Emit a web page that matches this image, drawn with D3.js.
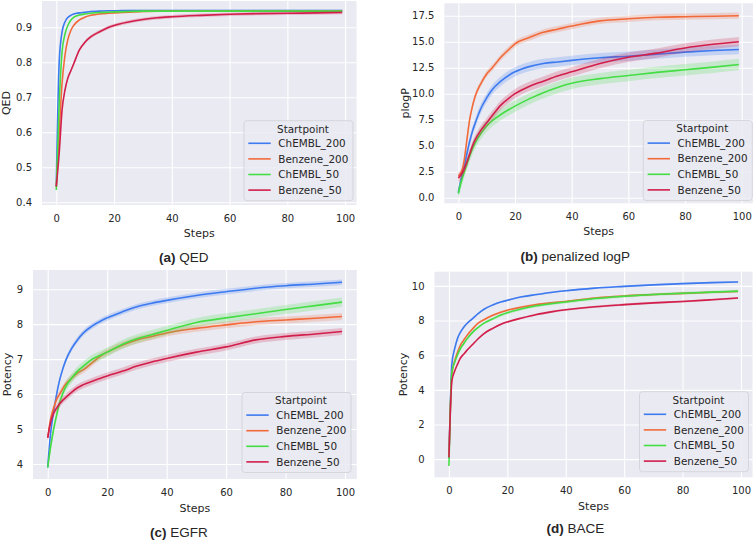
<!DOCTYPE html>
<html>
<head>
<meta charset="utf-8">
<script src="https://cdn.jsdelivr.net/npm/d3@7"></script>
<style>
  html, body { margin: 0; padding: 0; background: #fff; }
  svg { display: block; }
  text { font-family: "DejaVu Sans", sans-serif; fill: #262626; }
  .cap { font-family: "Liberation Sans", Arial, sans-serif; }
</style>
</head>
<body>
<svg id="chart" width="755" height="541"></svg>
<script>
// ---------- data ----------
const steps = [0, 1, 2, 3, 4, 5, 6, 8, 10, 12, 15, 18, 20, 25, 30, 35, 40, 50, 60, 70, 80, 90, 99];
const seriesNames = ["ChEMBL_200", "Benzene_200", "ChEMBL_50", "Benzene_50"];
const seriesColors = ["#3d7af0", "#f26a3a", "#44dd44", "#d21e4b"];

// (a) QED
const qedChembl200  = [0.445, 0.800, 0.887, 0.915, 0.928, 0.934, 0.938, 0.941, 0.943, 0.945, 0.946, 0.947, 0.947, 0.948, 0.948, 0.948, 0.948, 0.948, 0.948, 0.948, 0.948, 0.948, 0.948];
const qedBenzene200 = [0.445, 0.600, 0.740, 0.820, 0.865, 0.890, 0.905, 0.921, 0.929, 0.934, 0.938, 0.940, 0.941, 0.943, 0.945, 0.946, 0.946, 0.946, 0.946, 0.946, 0.946, 0.946, 0.946];
const qedChembl50   = [0.435, 0.680, 0.830, 0.880, 0.905, 0.920, 0.928, 0.935, 0.938, 0.940, 0.942, 0.943, 0.944, 0.945, 0.946, 0.946, 0.946, 0.946, 0.946, 0.946, 0.946, 0.946, 0.946];
const qedBenzene50  = [0.445, 0.540, 0.664, 0.720, 0.755, 0.775, 0.795, 0.835, 0.858, 0.873, 0.887, 0.899, 0.905, 0.915, 0.922, 0.927, 0.930, 0.934, 0.937, 0.939, 0.940, 0.941, 0.942];
const qedBand = [0.002, 0.002, 0.002, 0.005];
const qedTicks = [0.4, 0.5, 0.6, 0.7, 0.8, 0.9];

// (b) penalized logP
const plogpChembl200  = [0.5, 1.8, 2.9, 4.2, 5.4, 6.4, 7.2, 8.6, 9.6, 10.4, 11.2, 11.8, 12.1, 12.6, 12.9, 13.05, 13.2, 13.45, 13.6, 13.8, 14.0, 14.15, 14.25];
const plogpBenzene200 = [2.1, 2.4, 3.5, 5.5, 7.5, 8.8, 9.8, 11.0, 11.9, 12.5, 13.5, 14.3, 14.8, 15.4, 15.9, 16.2, 16.5, 17.0, 17.2, 17.35, 17.4, 17.45, 17.5];
const plogpChembl50   = [0.4, 1.5, 2.4, 3.2, 4.0, 4.7, 5.3, 6.2, 6.9, 7.4, 8.0, 8.5, 8.8, 9.5, 10.1, 10.6, 11.0, 11.45, 11.75, 12.05, 12.3, 12.55, 12.8];
const plogpBenzene50  = [1.9, 2.2, 2.7, 3.4, 4.2, 5.0, 5.6, 6.5, 7.2, 7.9, 8.9, 9.6, 10.0, 10.7, 11.2, 11.7, 12.1, 12.9, 13.5, 13.9, 14.4, 14.75, 15.0];
const plogpBand = [0.45, 0.3, 0.55, 0.45];
const plogpTicks = [0.0, 2.5, 5.0, 7.5, 10.0, 12.5, 15.0, 17.5];

// (c) EGFR
const egfrChembl200  = [3.9, 4.9, 5.5, 6.0, 6.4, 6.7, 6.95, 7.3, 7.55, 7.75, 7.95, 8.1, 8.18, 8.35, 8.5, 8.6, 8.68, 8.82, 8.93, 9.03, 9.1, 9.15, 9.2];
const egfrBenzene200 = [4.75, 5.3, 5.6, 5.85, 6.0, 6.15, 6.28, 6.45, 6.6, 6.7, 6.9, 7.1, 7.2, 7.4, 7.55, 7.65, 7.75, 7.88, 7.98, 8.07, 8.12, 8.17, 8.22];
const egfrChembl50   = [3.9, 4.5, 5.0, 5.4, 5.75, 6.0, 6.2, 6.45, 6.65, 6.8, 7.0, 7.12, 7.2, 7.42, 7.58, 7.7, 7.82, 8.05, 8.18, 8.3, 8.42, 8.53, 8.63];
const egfrBenzene50  = [4.75, 5.2, 5.45, 5.6, 5.72, 5.82, 5.9, 6.05, 6.18, 6.27, 6.37, 6.46, 6.52, 6.65, 6.8, 6.92, 7.02, 7.2, 7.35, 7.55, 7.65, 7.72, 7.79];
const egfrBand = [0.08, 0.1, 0.13, 0.1];
const egfrTicks = [4, 5, 6, 7, 8, 9];

// (d) BACE
const baceChembl200  = [0.05, 5.5, 6.4, 7.0, 7.35, 7.6, 7.8, 8.1, 8.4, 8.65, 8.9, 9.08, 9.17, 9.37, 9.5, 9.62, 9.72, 9.87, 9.97, 10.06, 10.13, 10.19, 10.23];
const baceBenzene200 = [0.1, 4.9, 5.7, 6.2, 6.6, 6.85, 7.1, 7.5, 7.85, 8.05, 8.3, 8.5, 8.6, 8.78, 8.92, 9.02, 9.1, 9.3, 9.42, 9.5, 9.57, 9.63, 9.68];
const baceChembl50   = [-0.4, 5.0, 5.6, 6.05, 6.4, 6.65, 6.9, 7.3, 7.6, 7.85, 8.1, 8.33, 8.45, 8.68, 8.85, 8.97, 9.07, 9.27, 9.4, 9.5, 9.58, 9.64, 9.7];
const baceBenzene50  = [0.1, 4.5, 5.1, 5.5, 5.85, 6.05, 6.25, 6.6, 6.95, 7.25, 7.55, 7.8, 7.92, 8.15, 8.35, 8.5, 8.62, 8.8, 8.92, 9.02, 9.1, 9.2, 9.3];
const baceBand = [0.05, 0.06, 0.08, 0.06];
const baceTicks = [0, 2, 4, 6, 8, 10];

const xTicks = [0, 20, 40, 60, 80, 100];
const legendTitle = "Startpoint";
const xLabel = "Steps";

// ---------- layout ----------
const panels = [
  { tag: "(a)", caption: "QED", ylabel: "QED", series: [qedChembl200, qedBenzene200, qedChembl50, qedBenzene50], band: qedBand, yTicks: qedTicks, fmt: d3.format(".1f"),
    box: { l: 42, r: 356.5, t: 1, b: 205 }, yDom: [0.392, 0.975], ylabX: 6.3, xlabY: 237, capX: 183.8, capY: 262.4, legX: 244, legY: 120.7 },
  { tag: "(b)", caption: "penalized logP", ylabel: "plogP", series: [plogpChembl200, plogpBenzene200, plogpChembl50, plogpBenzene50], band: plogpBand, yTicks: plogpTicks, fmt: d3.format(".1f"),
    box: { l: 444.3, r: 752.9, t: 3.3, b: 203.3 }, yDom: [-0.54, 18.69], ylabX: 405, xlabY: 235, capX: 575.3, capY: 261, legX: 643.3, legY: 120.5 },
  { tag: "(c)", caption: "EGFR", ylabel: "Potency", series: [egfrChembl200, egfrBenzene200, egfrChembl50, egfrBenzene50], band: egfrBand, yTicks: egfrTicks, fmt: d3.format("d"),
    box: { l: 33, r: 356.8, t: 270, b: 479 }, yDom: [3.57, 9.55], ylabX: 6.7, xlabY: 512.3, capX: 179, capY: 537, legX: 242, legY: 392.5 },
  { tag: "(d)", caption: "BACE", ylabel: "Potency", series: [baceChembl200, baceBenzene200, baceChembl50, baceBenzene50], band: baceBand, yTicks: baceTicks, fmt: d3.format("d"),
    box: { l: 434.5, r: 752.5, t: 271.7, b: 477.3 }, yDom: [-1.05, 10.82], ylabX: 403, xlabY: 509.7, capX: 575.3, capY: 533, legX: 639.5, legY: 391.7 }
];

const svg = d3.select("#chart");
svg.append("rect").attr("width", 755).attr("height", 541).attr("fill", "#fff");

panels.forEach((p, pi) => {
  const b = p.box;
  const x = d3.scaleLinear().domain([-4.95, 103.95]).range([b.l, b.r]);
  const y = d3.scaleLinear().domain(p.yDom).range([b.b, b.t]);
  const g = svg.append("g");

  const clipId = "clip" + pi;
  g.append("clipPath").attr("id", clipId).append("rect")
    .attr("x", b.l).attr("y", b.t).attr("width", b.r - b.l).attr("height", b.b - b.t);

  g.append("rect").attr("x", b.l).attr("y", b.t).attr("width", b.r - b.l).attr("height", b.b - b.t)
    .attr("fill", "#eaeaf2");

  // grid via axes
  const yAxis = d3.axisLeft(y).tickValues(p.yTicks).tickFormat(p.fmt).tickSize(-(b.r - b.l)).tickPadding(10);
  const gy = g.append("g").attr("transform", `translate(${b.l},0)`).call(yAxis);
  gy.select(".domain").remove();
  gy.selectAll(".tick line").attr("stroke", "#fff").attr("stroke-width", 1.1);
  gy.selectAll(".tick text").attr("font-size", 10).attr("fill", "#262626").attr("x", -(b.l - (b.l - 10)));

  const xAxis = d3.axisBottom(x).tickValues(xTicks).tickFormat(d3.format("d")).tickSize(-(b.b - b.t)).tickPadding(10);
  const gx = g.append("g").attr("transform", `translate(0,${b.b})`).call(xAxis);
  gx.select(".domain").remove();
  gx.selectAll(".tick line").attr("stroke", "#fff").attr("stroke-width", 1.1);
  gx.selectAll(".tick text").attr("font-size", 10).attr("fill", "#262626");

  const plot = g.append("g").attr("clip-path", `url(#${clipId})`);
  p.series.forEach((vals, si) => {
    const pts = steps.map((s, i) => ({ s, v: vals[i] }));
    const hw = p.band[si];
    const area = d3.area().curve(d3.curveMonotoneX)
      .x(d => x(d.s)).y0(d => y(d.v - hw)).y1(d => y(d.v + hw));
    plot.append("path").datum(pts).attr("d", area)
      .attr("fill", seriesColors[si]).attr("fill-opacity", 0.22).attr("stroke", "none");
    const line = d3.line().curve(d3.curveMonotoneX).x(d => x(d.s)).y(d => y(d.v));
    plot.append("path").datum(pts).attr("d", line)
      .attr("fill", "none").attr("stroke", seriesColors[si]).attr("stroke-width", 1.6);
  });

  // axis labels
  g.append("text").attr("x", (b.l + b.r) / 2).attr("y", p.xlabY).attr("text-anchor", "middle")
    .attr("font-size", 11).text(xLabel);
  g.append("text").attr("transform", `translate(${p.ylabX},${(b.t + b.b) / 2}) rotate(-90)`)
    .attr("text-anchor", "middle").attr("dy", "0.35em").attr("font-size", 11).text(p.ylabel);

  // caption
  const cap = g.append("text").attr("class", "cap").attr("x", p.capX).attr("y", p.capY)
    .attr("text-anchor", "middle").attr("font-size", 13.5);
  cap.append("tspan").attr("font-weight", "bold").text(p.tag);
  cap.append("tspan").text(" " + p.caption);

  // legend
  const lg = g.append("g").attr("transform", `translate(${p.legX},${p.legY})`);
  lg.append("rect").attr("width", 109).attr("height", 80).attr("rx", 3)
    .attr("fill", "#eaeaf2").attr("fill-opacity", 0.85).attr("stroke", "#cfcfd6").attr("stroke-width", 0.8);
  lg.append("text").attr("x", 59).attr("y", 8.3).attr("dy", "0.35em").attr("text-anchor", "middle")
    .attr("font-size", 10.4).text(legendTitle);
  seriesNames.forEach((nm, si) => {
    const yy = 22.6 + si * 15.6;
    lg.append("line").attr("x1", 4.3).attr("x2", 26.7).attr("y1", yy).attr("y2", yy)
      .attr("stroke", seriesColors[si]).attr("stroke-width", 1.6);
    lg.append("text").attr("x", 34.3).attr("y", yy).attr("dy", "0.35em").attr("font-size", 10.4).text(nm);
  });
});
</script>
</body>
</html>
